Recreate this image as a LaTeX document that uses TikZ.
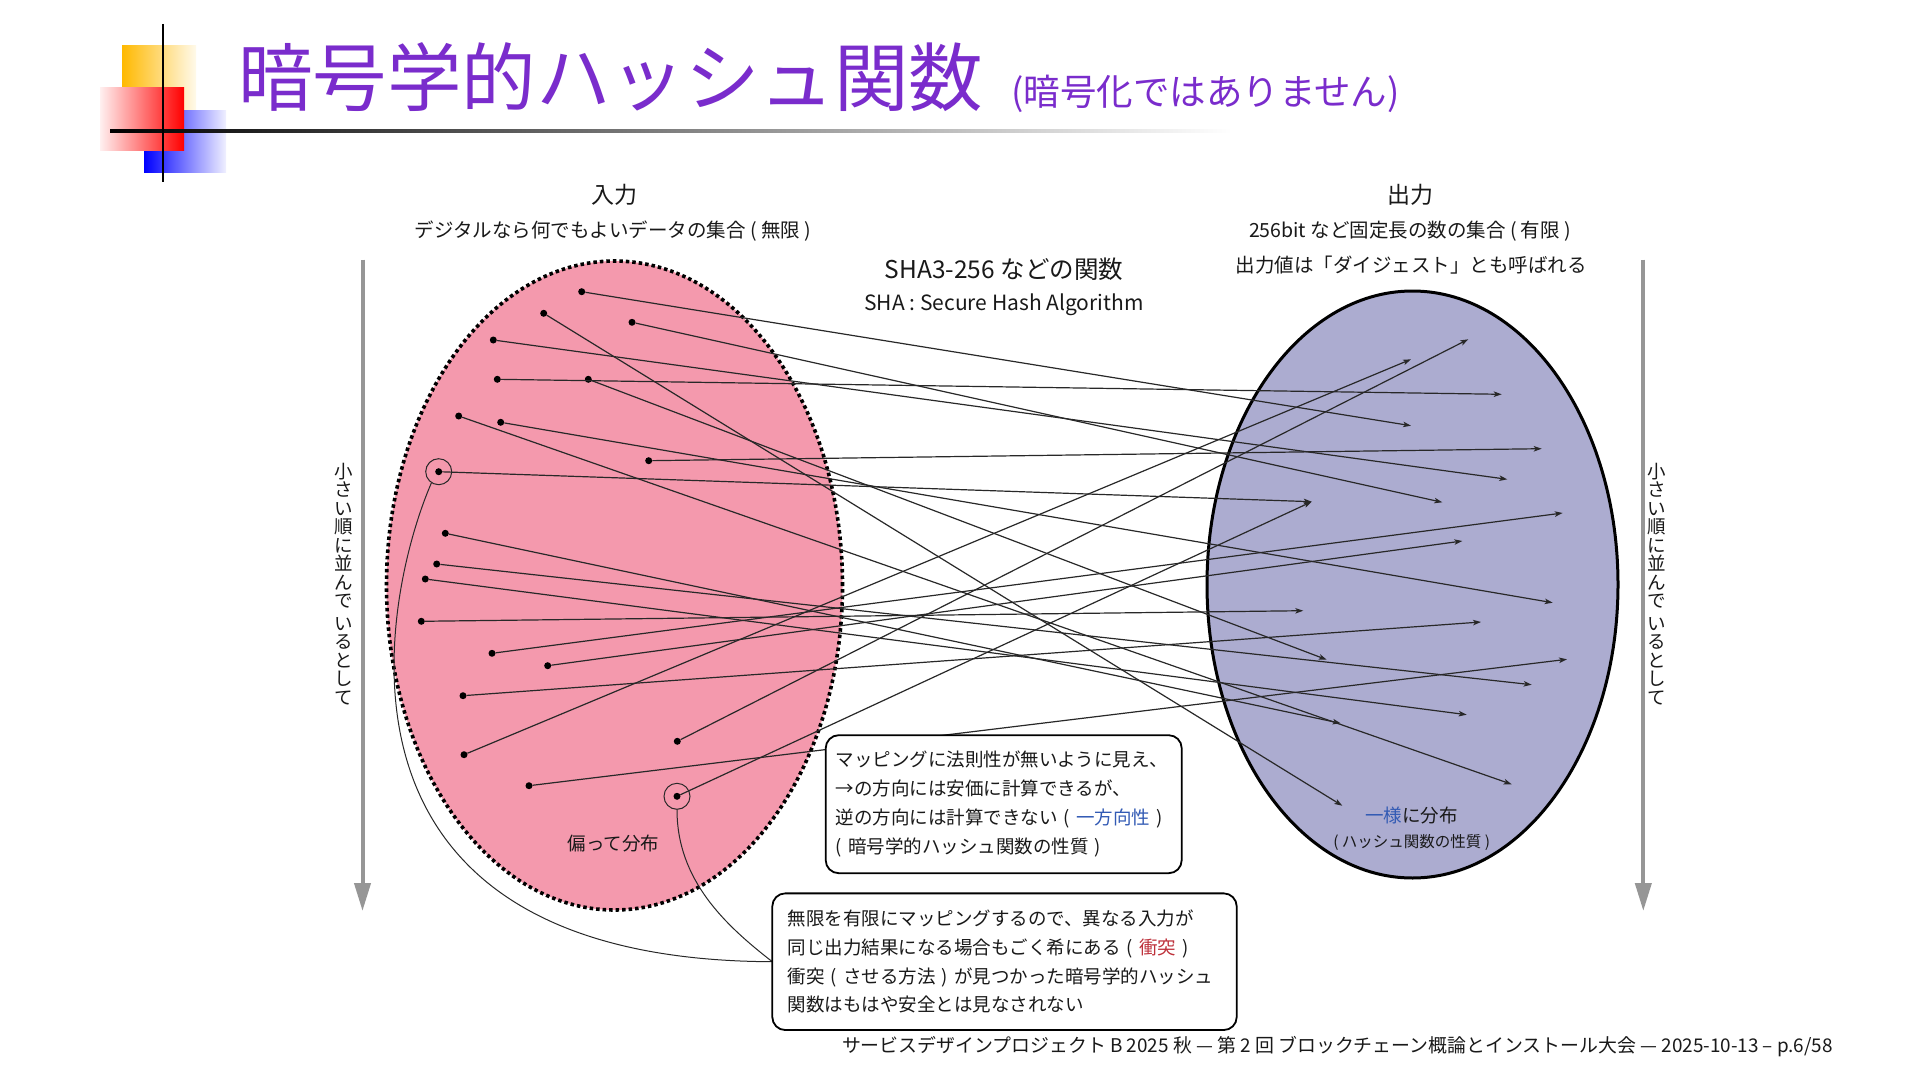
\documentclass[tikz,border=0pt]{standalone}
\usepackage{fontspec}
\setmainfont{Noto Sans CJK JP}
\usetikzlibrary{arrows.meta,shapes.geometric}
\definecolor{titlepurple}{RGB}{122,44,204}
\definecolor{pinkfill}{RGB}{244,153,173}
\definecolor{lavfill}{RGB}{172,172,208}
\definecolor{linegray}{RGB}{40,40,40}
\definecolor{arrowgray}{RGB}{150,150,150}
\definecolor{kwblue}{RGB}{50,90,180}
\definecolor{kwred}{RGB}{190,50,60}
\definecolor{logoorange}{RGB}{255,185,0}
\definecolor{txt}{RGB}{25,25,25}
\begin{document}
\begin{tikzpicture}[x=1pt,y=-1pt,
  dot/.style={circle,fill=black,inner sep=0pt,minimum size=7pt},
  map/.style={draw=linegray,line width=1.2pt,-{Stealth[length=8pt,width=5.5pt,inset=2pt]}},
  ring/.style={circle,draw=linegray,line width=1pt,minimum size=26pt,inner sep=0pt},
  callout/.style={draw=linegray,line width=1pt},
  note/.style={draw=black,line width=1.8pt,rounded corners=13pt,fill=white,align=left,inner ysep=0pt,text=txt},
  lbl/.style={inner sep=0pt,text=txt},
  side/.style={draw=arrowgray,line width=4pt,-{Triangle[length=28pt,width=16pt]}},
  vtext/.style={align=center,inner sep=0pt,text=txt,font=\fontsize{18.5}{18.5}\selectfont}
]
\useasboundingbox (0,0) rectangle (1920,1081);
\fill[white] (0,0) rectangle (1920,1081);

% logo
\shade[left color=logoorange, right color=logoorange!8] (122,46) rectangle (196,112);
\shade[left color=blue, right color=blue!6] (144,110) rectangle (226,172);
\shade[left color=red!6, right color=red] (100,88) rectangle (184,150);
\shade[left color=black, middle color=black!55, right color=white] (110,129.5) rectangle (1232,132.5);
\draw[black,line width=2.5pt] (163,24) -- (163,182);

% title
\node[anchor=base west,inner sep=0pt,text=titlepurple,font=\fontsize{74.5}{74.5}\selectfont] (title) at (238,105) {暗号学的ハッシュ関数};
\node[anchor=base west,inner sep=0pt,text=titlepurple,font=\fontsize{36.5}{36.5}\selectfont] (subtitle) at (1011,105) {(暗号化ではありません)};

% headings
\node[lbl,font=\fontsize{23}{23}\selectfont] (inhead) at (614,195) {入力};
\node[lbl,font=\fontsize{19.5}{19.5}\selectfont] (indesc) at (613,231) {デジタルなら何でもよいデータの集合 ( 無限 )};
\node[lbl,font=\fontsize{24.5}{24.5}\selectfont] (fnhead) at (1004,269) {SHA3-256 などの関数};
\node[lbl,font=\fontsize{21}{21}\selectfont] (fndesc) at (1004,305) {SHA : Secure Hash Algorithm};
\node[lbl,font=\fontsize{23}{23}\selectfont] (outhead) at (1410,195) {出力};
\node[lbl,font=\fontsize{19.5}{19.5}\selectfont] (outdesc) at (1410,231) {256bit など固定長の数の集合 ( 有限 )};
\node[lbl,font=\fontsize{19.5}{19.5}\selectfont] (outdesc2) at (1411,265) {出力値は「ダイジェスト」とも呼ばれる};

% side arrows
\coordinate (la0) at (362.5,259.6);
\coordinate (la1) at (362.5,911);
\coordinate (ra0) at (1643.3,259.6);
\coordinate (ra1) at (1643.3,911);
\draw[side] (la0) -- (la1);
\draw[side] (ra0) -- (ra1);
\node[vtext] (vleft) at (344,584) {小\\さ\\い\\順\\に\\並\\ん\\で\\[4pt]い\\る\\と\\し\\て};
\node[vtext] (vright) at (1657,584) {小\\さ\\い\\順\\に\\並\\ん\\で\\[4pt]い\\る\\と\\し\\て};

% sets
\node[ellipse,fill=pinkfill,draw=black,line width=3.6pt,dash pattern=on 3.5pt off 3pt,minimum width=456pt,minimum height=649pt,inner sep=0pt] (inset) at (614.5,585.5) {};
\node[ellipse,fill=lavfill,draw=black,line width=3pt,minimum width=411pt,minimum height=587pt,inner sep=0pt] (outset) at (1412.5,584.5) {};

% input dots
\node[dot] (d1) at (581.7,291.7) {};
\node[dot] (d2) at (543.7,313.3) {};
\node[dot] (d3) at (632,322.3) {};
\node[dot] (d4) at (493.3,340) {};
\node[dot] (d5) at (497.3,379.3) {};
\node[dot] (d6) at (588.3,379.3) {};
\node[dot] (d7) at (458.7,416) {};
\node[dot] (d8) at (500.7,422.3) {};
\node[dot] (d9) at (648.7,460.7) {};
\node[dot] (d10) at (438.7,471.7) {};
\node[dot] (d11) at (445.3,533.3) {};
\node[dot] (d12) at (436.7,564) {};
\node[dot] (d13) at (425.3,579) {};
\node[dot] (d14) at (421.3,621.3) {};
\node[dot] (d15) at (492,653.3) {};
\node[dot] (d16) at (547.7,665.7) {};
\node[dot] (d17) at (463,695.7) {};
\node[dot] (d18) at (464,754.7) {};
\node[dot] (d19) at (677.3,741.3) {};
\node[dot] (d20) at (529,785.7) {};
\node[dot] (d21) at (677,796.3) {};

% output points
\coordinate (e1) at (1468.3,339.3);
\coordinate (e2) at (1411,359.3);
\coordinate (e3) at (1501.7,394.3);
\coordinate (e4) at (1411,425.7);
\coordinate (e5) at (1541.7,448.7);
\coordinate (e6) at (1507.3,479.3);
\coordinate (e7) at (1442.3,502.3);
\coordinate (e8) at (1311.7,501.7);
\coordinate (e9) at (1562.7,513);
\coordinate (e10) at (1462.3,541);
\coordinate (e11) at (1552.7,602.7);
\coordinate (e12) at (1303.3,610.7);
\coordinate (e13) at (1481,622);
\coordinate (e14) at (1326.7,659.7);
\coordinate (e15) at (1567,659.3);
\coordinate (e16) at (1531.7,684.7);
\coordinate (e17) at (1466.7,714.7);
\coordinate (e18) at (1340.7,723.3);
\coordinate (e19) at (1511.7,784.3);
\coordinate (e20) at (1342.3,805.7);

% mappings
\draw[map] (d1) -- (e4);
\draw[map] (d2) -- (e20);
\draw[map] (d3) -- (e7);
\draw[map] (d4) -- (e6);
\draw[map] (d5) -- (e3);
\draw[map] (d6) -- (e14);
\draw[map] (d7) -- (e19);
\draw[map] (d8) -- (e11);
\draw[map] (d9) -- (e5);
\draw[map] (d10) -- (e8);
\draw[map] (d11) -- (e18);
\draw[map] (d12) -- (e16);
\draw[map] (d13) -- (e17);
\draw[map] (d14) -- (e12);
\draw[map] (d15) -- (e9);
\draw[map] (d16) -- (e10);
\draw[map] (d17) -- (e13);
\draw[map] (d18) -- (e2);
\draw[map] (d19) -- (e1);
\draw[map] (d20) -- (e15);
\draw[map] (d21) -- (e8);

% collision rings
\node[ring] (c1) at (d10) {};
\node[ring] (c2) at (d21) {};

% set captions
\node[lbl,font=\fontsize{18.5}{18.5}\selectfont] (biased) at (613.5,843) {偏って分布};
\node[lbl,font=\fontsize{18.5}{18.5}\selectfont] (uniform) at (1411.7,815) {\textcolor{kwblue}{一様}に分布};
\node[lbl,font=\fontsize{15.5}{15.5}\selectfont] (uniform2) at (1411.7,842) {( ハッシュ関数の性質 )};

% callout curves
\draw[callout] (c1.-123) .. controls (385,590) and (300,960) .. (772.3,961.7);
\draw[callout] (c2.south) .. controls (677,880) and (725,925) .. (772.3,961.7);

% notes
\node[note,text width=336pt,inner xsep=10pt,minimum width=356pt,minimum height=138pt,font=\fontsize{18.5}{29}\selectfont] (box1) at (1003.7,804.2)
 {マッピングに法則性が無いように見え、\\→の方向には安価に計算できるが、\\逆の方向には計算できない ( \textcolor{kwblue}{一方向性} )\\( 暗号学的ハッシュ関数の性質 )};
\node[note,text width=434pt,inner xsep=15.2pt,minimum width=464.4pt,minimum height=136.7pt,font=\fontsize{18.5}{28.6}\selectfont] (box2) at (1004.5,961.7)
 {無限を有限にマッピングするので、異なる入力が\\同じ出力結果になる場合もごく希にある ( \textcolor{kwred}{衝突} )\\衝突 ( させる方法 ) が見つかった暗号学的ハッシュ\\関数はもはや安全とは見なされない};

% footer
\node[anchor=east,inner sep=0pt,text=txt,font=\fontsize{18.9}{18.9}\selectfont] (footer) at (1833,1047)
 {サービスデザインプロジェクト B 2025 秋 — 第 2 回 ブロックチェーン概論とインストール大会 — 2025-10-13 – p.6/58};
\end{tikzpicture}
\end{document}
